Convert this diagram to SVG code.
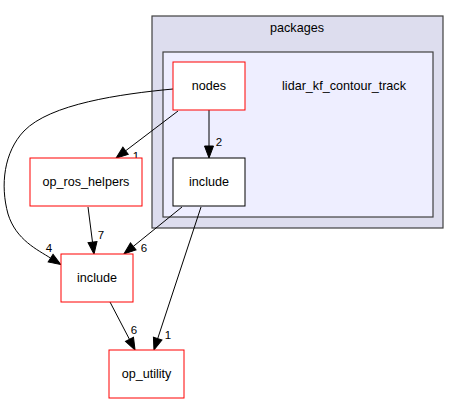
<svg xmlns="http://www.w3.org/2000/svg" width="459" height="404" viewBox="0 0 459 404">
<defs>
<style>
.t{font-family:"Liberation Sans",Arial,sans-serif;font-size:12.6px;fill:#000;text-anchor:middle}
.l{font-family:"Liberation Sans",Arial,sans-serif;font-size:11.5px;fill:#000;text-anchor:middle}
.cl{stroke:#404040;stroke-width:1.2}
.n{fill:#fff;stroke:#ff0000;stroke-width:1}
.nb{fill:#fff;stroke:#000;stroke-width:1}
.e{fill:none;stroke:#000;stroke-width:1;marker-end:url(#ah)}
</style>
<marker id="ah" markerUnits="userSpaceOnUse" markerWidth="12" markerHeight="9" refX="0" refY="4.5" orient="auto" overflow="visible">
<path d="M0,0 L12,4.5 L0,9 z" fill="#000" stroke="#000" stroke-width="1"/>
</marker>
</defs>
<rect width="459" height="404" fill="#fff"/>
<g id="cluster_packages">
<rect class="cl" x="152" y="16" width="291" height="212" fill="#ddddee"/>
<text class="t" x="297" y="32">packages</text>
</g>
<g id="cluster_lidar_kf_contour_track">
<rect class="cl" x="163" y="52" width="270" height="165" fill="#eeeeff"/>
<text class="t" x="344" y="90">lidar_kf_contour_track</text>
</g>
<g id="connectors">
<path class="e" d="M209,110 L209,146"/>
<text class="l" x="219" y="146">2</text>
<path class="e" d="M178,111 L125.6,150.8"/>
<text class="l" x="136" y="160">1</text>
<path class="e" d="M88,207 L92.5,242.1"/>
<text class="l" x="101" y="239">7</text>
<path class="e" d="M182,207 L133.3,246.4"/>
<text class="l" x="144" y="252">6</text>
<path class="e" d="M201,207 L157.7,338.6"/>
<text class="l" x="168" y="339">1</text>
<path class="e" d="M110,302 L129.5,339.4"/>
<text class="l" x="134" y="334">6</text>
<path class="e" d="M173,89 C120,94 50,104 24,131 C4,152 0,185 8,214 C16,240 38,250 50.6,258.1"/>
<text class="l" x="49" y="252">4</text>
</g>
<g id="node_nodes">
<rect class="n" x="173" y="62" width="72" height="48"/>
<text class="t" x="209" y="90">nodes</text>
</g>
<g id="node_include_inner">
<rect class="nb" x="173" y="158" width="72" height="48"/>
<text class="t" x="209" y="186">include</text>
</g>
<g id="node_op_ros_helpers">
<rect class="n" x="30" y="158" width="112" height="48"/>
<text class="t" x="86" y="186">op_ros_helpers</text>
</g>
<g id="node_include">
<rect class="n" x="61" y="254" width="72" height="48"/>
<text class="t" x="97" y="282">include</text>
</g>
<g id="node_op_utility">
<rect class="n" x="109" y="350" width="75" height="48"/>
<text class="t" x="146.5" y="378">op_utility</text>
</g>
</svg>
